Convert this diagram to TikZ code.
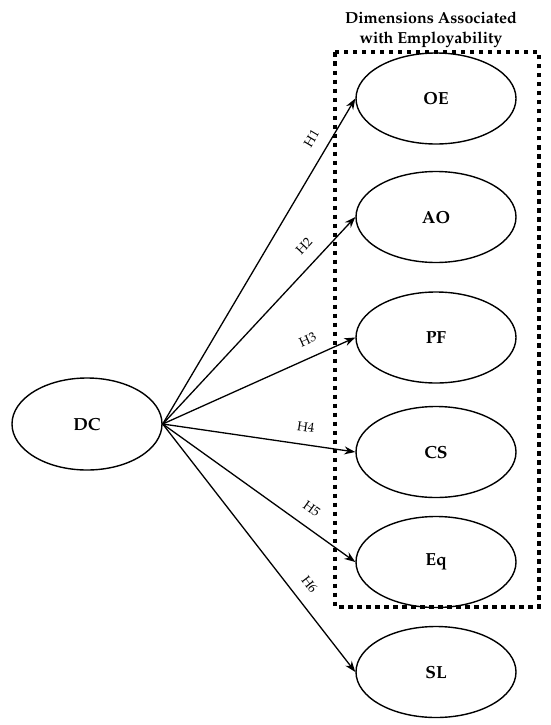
\documentclass[tikz,border=0pt]{standalone}
\usepackage[T1]{fontenc}
\usepackage{mathpazo}
\usetikzlibrary{arrows.meta,shapes.geometric}
\begin{document}
\begin{tikzpicture}[x=1pt,y=-1pt,
	ell/.style={draw,ellipse,line width=1.4pt,minimum width=160pt,minimum height=91pt,inner sep=0pt,font=\fontsize{17.5}{20}\selectfont\bfseries},
	hyp/.style={line width=1.3pt,-{Stealth[length=11pt,width=8pt]}},
	lab/.style={sloped,above=9pt,font=\fontsize{13}{15}\selectfont}]
	\useasboundingbox (0,0) rectangle (550,725);
	\draw[line width=4pt,dash pattern=on 4.5pt off 4.5pt] (335,52.5) rectangle (539,606.5);
	\node (title) at (431,30) [align=center,font=\fontsize{16}{20}\selectfont\bfseries]{Dimensions Associated\\with Employability};
	\node (dc) at (87,424) [ell,minimum width=150pt,minimum height=92pt]{DC};
	\node (oe) at (436,98.5) [ell]{OE};
	\node (ao) at (436,217) [ell]{AO};
	\node (pf) at (436,337.5) [ell]{PF};
	\node (cs) at (436,452) [ell]{CS};
	\node (eq) at (436,562) [ell]{Eq};
	\node (sl) at (436,672) [ell]{SL};
	\draw [hyp] (dc.east) -- (oe.west) node[lab,pos=.85]{H1};
	\draw [hyp] (dc.east) -- (ao.west) node[lab,pos=.80]{H2};
	\draw [hyp] (dc.east) -- (pf.west) node[lab,pos=.79]{H3};
	\draw [hyp] (dc.east) -- (cs.west) node[lab,pos=.73]{H4};
	\draw [hyp] (dc.east) -- (eq.west) node[lab,pos=.72]{H5};
	\draw [hyp] (dc.east) -- (sl.west) node[lab,pos=.69]{H6};
\end{tikzpicture}
\end{document}
